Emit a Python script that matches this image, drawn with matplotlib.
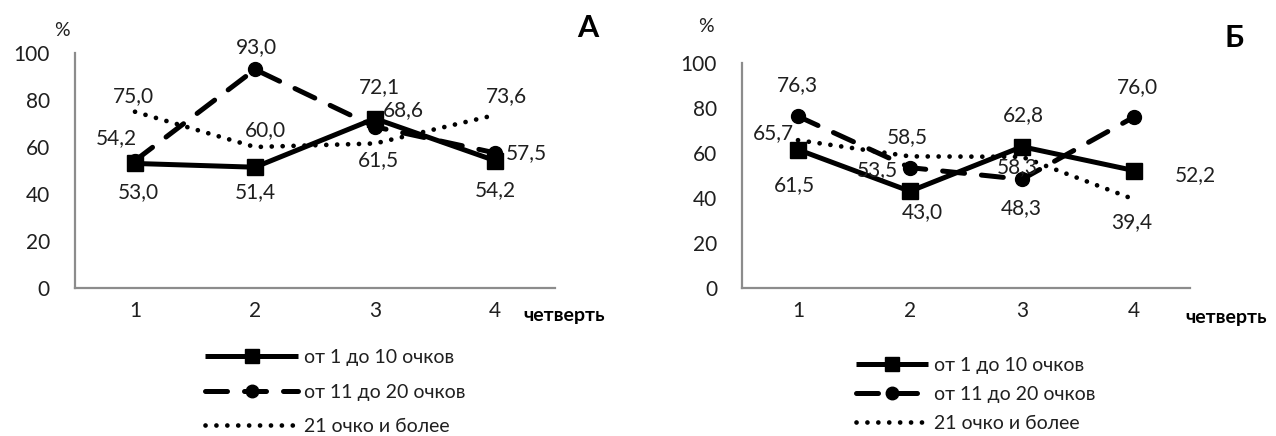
import matplotlib
matplotlib.use("Agg")
import matplotlib.pyplot as plt
from matplotlib.lines import Line2D

plt.rcParams['font.family'] = ['Lato', 'DejaVu Sans']

quarters = [1, 2, 3, 4]
quarter_labels = ["1", "2", "3", "4"]
series_names = ["от 1 до 10 очков", "от 11 до 20 очков", "21 очко и более"]

# Panel A
a_low = [53.0, 51.4, 72.1, 54.2]
a_mid = [54.2, 93.0, 68.6, 57.5]
a_high = [75.0, 60.0, 61.5, 73.6]

# Panel Б
b_low = [61.5, 43.0, 62.8, 52.2]
b_mid = [76.3, 53.5, 48.3, 76.0]
b_high = [65.7, 58.5, 58.3, 39.4]

# label offsets in pixels (dx, dy) for each series / point
a_offsets = [
    [(3, -29), (0, -25), (4, 31), (0, -29)],
    [(-19, 23), (1, 22), (28, 17), (31, 0)],
    [(-2, 16), (10, 17), (3, -17), (11, 19)],
]
b_offsets = [
    [(-4, -35), (12, -21), (1, 32), (61, -5)],
    [(-1, 31), (-33, -2), (-1, -29), (3, 30)],
    [(-25, 7), (-3, 19), (-5, -10), (-2, -23)],
]

W, H = 1276, 436
fig = plt.figure(figsize=(W / 100, H / 100), dpi=100)

TXT = "#1f1f1f"
AX = "#8c8c8c"
FS = 15

styles = [
    dict(color="black", lw=3.6, ls="-", marker="s", ms=11, solid_capstyle="butt"),
    dict(color="black", lw=3.6, ls=(0, (4.4, 3.4)), marker="o", ms=10,
         dash_capstyle="round"),
    dict(color="black", lw=3.4, ls=(0, (0.01, 2.3)), marker=None,
         dash_capstyle="round"),
]


def px_axes(left, right, top, bottom):
    return fig.add_axes([left / W, 1 - bottom / H, (right - left) / W, (bottom - top) / H])


def fmt(v):
    return f"{v:.1f}".replace(".", ",")


def draw_panel(ax, data, offsets):
    for vals, st, offs in zip(data, styles, offsets):
        ax.plot(quarters, vals, **st)
        for x, v, (dx, dy) in zip(quarters, vals, offs):
            ax.annotate(fmt(v), (x, v), xytext=(dx * 0.72, dy * 0.72),
                        textcoords="offset points", ha="center", va="center",
                        fontsize=FS, color=TXT)
    ax.set_xlim(0.5, 4.5)
    ax.set_ylim(0, 100)
    ax.set_yticks([0, 20, 40, 60, 80, 100])
    ax.set_xticks(quarters)
    ax.set_xticklabels(quarter_labels)
    for s in ("top", "right"):
        ax.spines[s].set_visible(False)
    for s in ("left", "bottom"):
        ax.spines[s].set_color(AX)
        ax.spines[s].set_linewidth(1.6)
    ax.tick_params(axis="both", length=0, labelsize=FS, labelcolor=TXT)
    ax.tick_params(axis="x", pad=9)
    ax.tick_params(axis="y", pad=18)
    ax.set_facecolor("none")


axA = px_axes(75, 555, 53, 288)
draw_panel(axA, [a_low, a_mid, a_high], a_offsets)
axB = px_axes(742, 1190, 63, 288)
draw_panel(axB, [b_low, b_mid, b_high], b_offsets)

fig.text(62 / W, 1 - 30 / H, "%", fontsize=14, ha="center", va="center", color=TXT)
fig.text(706 / W, 1 - 26 / H, "%", fontsize=14, ha="center", va="center", color=TXT)
fig.text(588 / W, 1 - 28 / H, "A", fontsize=22, fontweight="bold", ha="center", va="center")
fig.text(1234 / W, 1 - 38 / H, "Б", fontsize=22, fontweight="bold", ha="center", va="center")
fig.text(564 / W, 1 - 315 / H, "четверть", fontsize=14, fontweight="bold", ha="center", va="center")
fig.text(1226 / W, 1 - 318 / H, "четверть", fontsize=14, fontweight="bold", ha="center", va="center")


def legend_handles():
    hs = []
    for st in styles:
        hs.append(Line2D([], [], **st))
    return hs


legA = fig.legend(legend_handles(), series_names, loc="upper left",
                  bbox_to_anchor=(205 / W, 1 - 349 / H), frameon=False,
                  fontsize=14, handlelength=4.8, handletextpad=0.3,
                  labelspacing=0.9, borderpad=0, borderaxespad=0,
                  numpoints=1, markerscale=0.9)
legB = fig.legend(legend_handles(), series_names, loc="upper left",
                  bbox_to_anchor=(856 / W, 1 - 357 / H), frameon=False,
                  fontsize=14, handlelength=3.7, handletextpad=0.3,
                  labelspacing=0.62, borderpad=0, borderaxespad=0,
                  numpoints=1, markerscale=0.9)
for leg in (legA, legB):
    for t in leg.get_texts():
        t.set_color(TXT)

fig.savefig("out.png", dpi=100)
